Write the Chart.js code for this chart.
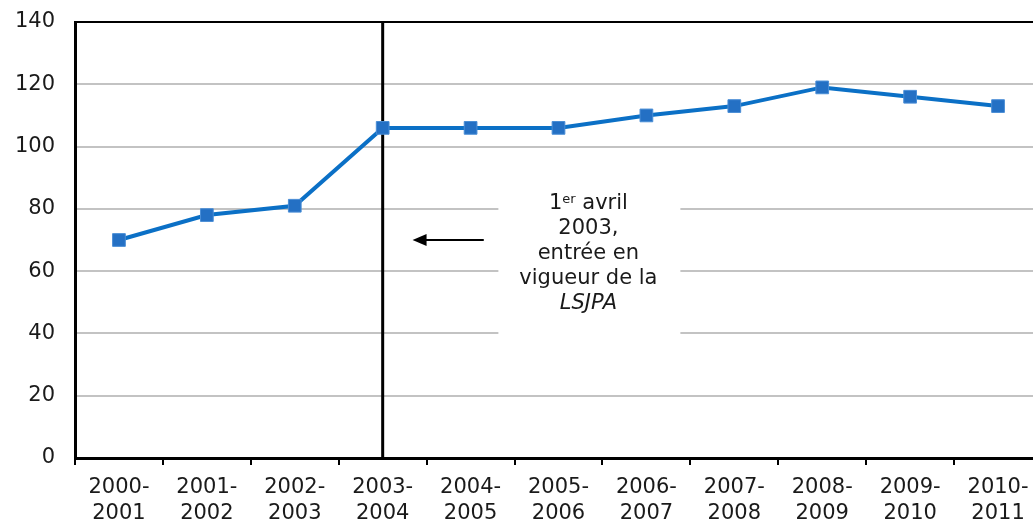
<!DOCTYPE html>
<html>
<head>
<meta charset="utf-8">
<script src="https://cdn.jsdelivr.net/npm/chart.js@4"></script>
<style>
  html, body { margin: 0; padding: 0; background: #fff; overflow: hidden; }
  #wrap { width: 1052px; height: 521px; }
</style>
</head>
<body>
<div id="wrap"><canvas id="chart" width="1052" height="521"></canvas></div>
<script>
const years = [
    ['2000-', '2001'], ['2001-', '2002'], ['2002-', '2003'], ['2003-', '2004'],
    ['2004-', '2005'], ['2005-', '2006'], ['2006-', '2007'], ['2007-', '2008'],
    ['2008-', '2009'], ['2009-', '2010'], ['2010-', '2011']
];
const values = [70, 78, 81, 106, 106, 106, 110, 113, 119, 116, 113];
const lawYearIndex = 3;
const noteLines = ['1|er| avril', '2003,', 'entrée en', 'vigueur de la', 'LSJPA'];

const FONT = 'DejaVu Sans, Verdana, sans-serif';

// vertical line, arrow and note box
const lsjpaNote = {
    id: 'lsjpaNote',
    beforeDatasetsDraw(chart) {
        const { ctx, chartArea, scales: { x, y } } = chart;
        ctx.save();

        // top border
        ctx.strokeStyle = '#000';
        ctx.lineWidth = 2;
        ctx.beginPath();
        ctx.moveTo(chartArea.left, chartArea.top);
        ctx.lineTo(chartArea.right, chartArea.top);
        ctx.stroke();

        // law line
        const lx = x.getPixelForValue(lawYearIndex);
        ctx.lineWidth = 3;
        ctx.beginPath();
        ctx.moveTo(lx, chartArea.top);
        ctx.lineTo(lx, chartArea.bottom);
        ctx.stroke();

        // white box behind the note
        const cx = x.getPixelForValue(5.34);
        const cy = y.getPixelForValue(70);
        ctx.fillStyle = '#fff';
        ctx.fillRect(cx - 90, cy - 66, 182, 166);

        // arrow
        const ay = cy;
        const ax1 = x.getPixelForValue(4.15);
        const ax2 = x.getPixelForValue(3.34);
        ctx.lineWidth = 2;
        ctx.beginPath();
        ctx.moveTo(ax1, ay);
        ctx.lineTo(ax2 + 10, ay);
        ctx.stroke();
        ctx.fillStyle = '#000';
        ctx.beginPath();
        ctx.moveTo(ax2, ay);
        ctx.lineTo(ax2 + 14, ay - 6);
        ctx.lineTo(ax2 + 14, ay + 6);
        ctx.closePath();
        ctx.fill();

        // note text
        ctx.fillStyle = '#1a1a1a';
        ctx.textBaseline = 'alphabetic';
        const top = cy - 31;
        noteLines.forEach((line, i) => {
            const ty = top + i * 25;
            if (line.includes('|')) {
                const parts = line.split('|');
                ctx.font = '21px ' + FONT;
                const w0 = ctx.measureText(parts[0]).width;
                const w2 = ctx.measureText(parts[2]).width;
                ctx.font = '13px ' + FONT;
                const w1 = ctx.measureText(parts[1]).width;
                let sx = cx - (w0 + w1 + w2) / 2;
                ctx.textAlign = 'left';
                ctx.font = '21px ' + FONT;
                ctx.fillText(parts[0], sx, ty);
                ctx.font = '13px ' + FONT;
                ctx.fillText(parts[1], sx + w0, ty - 6);
                ctx.font = '21px ' + FONT;
                ctx.fillText(parts[2], sx + w0 + w1, ty);
            } else {
                ctx.textAlign = 'center';
                ctx.font = (i === noteLines.length - 1 ? 'italic ' : '') + '21px ' + FONT;
                ctx.fillText(line, cx, ty);
            }
        });
        ctx.restore();
    }
};

new Chart(document.getElementById('chart'), {
    type: 'line',
    data: {
        labels: years,
        datasets: [{
            data: values,
            borderColor: '#0B70C6',
            borderWidth: 4,
            backgroundColor: '#2470C4',
            pointStyle: 'rect',
            pointRadius: 9,
            pointBorderColor: '#4A8ED6',
            pointBorderWidth: 1,
            tension: 0,
            clip: false
        }]
    },
    options: {
        responsive: false,
        animation: false,
        devicePixelRatio: 1,
        layout: { padding: { top: 22, right: 4, left: 0, bottom: 0 } },
        plugins: { legend: { display: false }, tooltip: { enabled: false } },
        scales: {
            x: {
                offset: true,
                grid: {
                    offset: true,
                    drawOnChartArea: false,
                    drawTicks: true,
                    tickLength: 7,
                    color: '#000',
                    lineWidth: 2
                },
                border: { color: '#000', width: 3 },
                ticks: {
                    color: '#1a1a1a',
                    font: { family: FONT, size: 21, lineHeight: 1.25 },
                    padding: 9,
                    maxRotation: 0,
                    autoSkip: false
                },
                afterFit(scale) { scale.height = 63; }
            },
            y: {
                min: 0,
                max: 140,
                ticks: {
                    stepSize: 20,
                    color: '#1a1a1a',
                    font: { family: FONT, size: 21 },
                    padding: 0
                },
                grid: {
                    color: '#c3c3c3',
                    lineWidth: 2,
                    drawTicks: true,
                    tickLength: 20,
                    tickColor: 'rgba(0,0,0,0)'
                },
                border: { color: '#000', width: 3 },
                afterFit(scale) { scale.width = 75; }
            }
        }
    },
    plugins: [lsjpaNote]
});
</script>
</body>
</html>
